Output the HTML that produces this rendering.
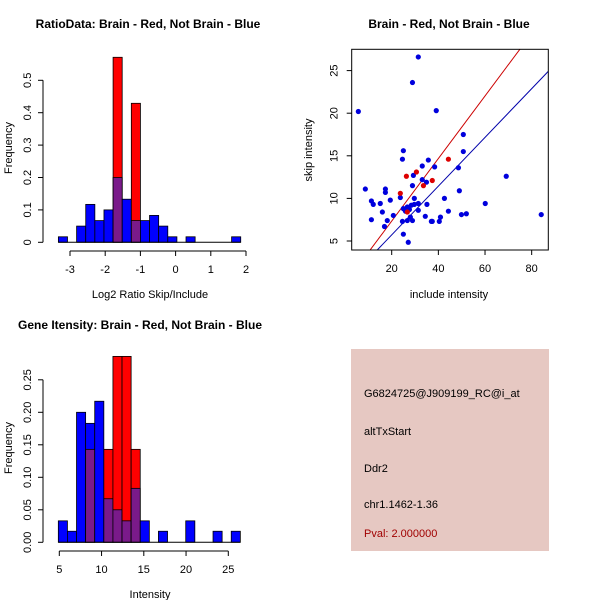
<!DOCTYPE html>
<html><head><meta charset="utf-8"><style>
body{margin:0;background:#fff;font-family:"Liberation Sans",sans-serif}
svg text{font-family:"Liberation Sans",sans-serif}
</style></head><body>
<svg id="s" width="600" height="600" xmlns="http://www.w3.org/2000/svg">
<rect width="600" height="600" fill="#fff"/>
<g id="p1"></g>
<g id="p2"></g>
<g id="p3"></g>
<g id="p4">
<rect x="351" y="349" width="198" height="202" fill="#e6c8c2"/>
<text x="364" y="397" font-size="11">G6824725@J909199_RC@i_at</text>
<text x="364" y="435" font-size="11">altTxStart</text>
<text x="364" y="472" font-size="11">Ddr2</text>
<text x="364" y="508" font-size="11">chr1.1462-1.36</text>
<text x="364" y="537" font-size="11" fill="#a00000">Pval: 2.000000</text>
</g>
</svg>
<script>
// ---- Histogram 1 data ----
const h1Start = -3.33, h1Width = 0.259;
const h1Blue = [0.017,0,0.05,0.117,0.067,0.1,0.2,0.133,0.067,0.067,0.083,0.05,0.017,0,0.017,0,0,0,0,0.017];
const h1Red  = [0,0,0,0,0,0,0.571,0,0.429,0,0,0,0,0,0,0,0,0,0,0];
const h1XTicks = [-3,-2,-1,0,1,2];
const h1YTicks = [0,0.1,0.2,0.3,0.4,0.5];
// ---- Histogram 2 data ----
const h2Start = 4.885, h2Width = 1.077;
const h2Blue = [0.033,0.017,0.2,0.183,0.217,0.067,0.05,0.033,0.083,0.033,0,0.017,0,0,0.033,0,0,0.017,0,0.017];
const h2Red  = [0,0,0,0.143,0,0.143,0.286,0.286,0.143,0,0,0,0,0,0,0,0,0,0,0];
const h2XTicks = [5,10,15,20,25];
const h2YTicks = [0,0.05,0.10,0.15,0.20,0.25];
const h2YLabels = ["0.00","0.05","0.10","0.15","0.20","0.25"];
// ---- Scatter data ----
const blueX = [5.7,31.4,28.9,39.1,50.7,50.7,25,24.6,35.7,48.6,33.1,38.4,69.1,29.3,33.1,34.9,28.9,8.7,17.3,17.3,49,23.7,29.7,42.6,11.3,19.4,12.1,15.1,60.1,31.4,35.1,29.7,28.4,26.7,25,27.6,16,25.9,31.4,44.3,49.9,52,84.1,20.7,34.4,40.9,28,11.3,18.1,24.6,26.7,28.9,37,37.4,40.4,16.9,25,27.1];
const blueY = [20.2,26.6,23.6,20.3,17.5,15.5,15.6,14.6,14.5,13.6,13.8,13.7,12.6,12.7,12.2,11.9,11.5,11.1,11.1,10.7,10.9,10.1,10,10,9.7,9.8,9.3,9.4,9.4,9.4,9.3,9.3,9.2,9.0,8.8,8.7,8.4,8.5,8.6,8.5,8.1,8.2,8.1,8.0,7.9,7.8,7.8,7.5,7.4,7.3,7.4,7.4,7.3,7.3,7.3,6.7,5.8,4.85];
const redX = [23.7,26.3,30.6,33.6,37.4,44.3,26.7];
const redY = [10.6,12.6,13.1,11.5,12.1,14.6,8.4];
const redSlope = 0.367, blueSlope = 0.286;
const scXTicks = [20,40,60,80];
const scYTicks = [5,10,15,20,25];

const NS = "http://www.w3.org/2000/svg";
function mk(parent, tag, attrs){const e=document.createElementNS(NS,tag);for(const k in attrs)e.setAttribute(k,attrs[k]);parent.appendChild(e);return e;}
function txt(parent, x, y, s, opts){const e=mk(parent,'text',Object.assign({x:x,y:y,'font-size':11,'text-anchor':'middle'},opts||{}));e.textContent=s;return e;}

function histogram(g, cfg){
  const xs=v=>cfg.x0px+(v-cfg.x0)*cfg.xk, ys=v=>cfg.y0px-v*cfg.yk;
  for(let i=0;i<cfg.blue.length;i++){
    const l=xs(cfg.start+i*cfg.width), r=xs(cfg.start+(i+1)*cfg.width);
    const b=cfg.blue[i], rd=cfg.red[i];
    const top=Math.max(b,rd);
    if(top<=0) continue;
    const hiCol = rd>b ? 'red' : 'blue';
    let e=mk(g,'rect',{x:l,y:ys(top),width:r-l,height:ys(0)-ys(top),fill:hiCol==='red'?'#ff0000':'#0000ff',stroke:'#000','stroke-width':0.8});
    
    
    const lo=Math.min(b,rd);
    if(lo>0){
      e=mk(g,'rect',{x:l,y:ys(lo),width:r-l,height:ys(0)-ys(lo),fill:'#7a1a8a',stroke:'#000','stroke-width':0.8});
      
      
    }
  }
  mk(g,'line',{x1:xs(cfg.start),x2:xs(cfg.start+cfg.blue.length*cfg.width),y1:ys(0),y2:ys(0),stroke:'#000'});
  const xa=mk(g,'g',{});
  
  mk(xa,'line',{x1:xs(cfg.xt[0]),x2:xs(cfg.xt[cfg.xt.length-1]),y1:cfg.axY,y2:cfg.axY,stroke:'#000'});
  cfg.xt.forEach(t=>{mk(xa,'line',{x1:xs(t),x2:xs(t),y1:cfg.axY,y2:cfg.axY+5,stroke:'#000'});txt(xa,xs(t),cfg.axY+22,String(t));});
  const ya=mk(g,'g',{});
  
  mk(ya,'line',{x1:cfg.axX,x2:cfg.axX,y1:ys(cfg.yt[0]),y2:ys(cfg.yt[cfg.yt.length-1]),stroke:'#000'});
  cfg.yt.forEach((t,i)=>{mk(ya,'line',{x1:cfg.axX,x2:cfg.axX-5,y1:ys(t),y2:ys(t),stroke:'#000'});
    txt(ya,cfg.axX-12,ys(t),cfg.yl[i],{transform:`rotate(-90 ${cfg.axX-12} ${ys(t)})`});});
  let t=txt(g,cfg.titleX,cfg.titleY,cfg.title,{'font-weight':'bold','font-size':12});
  
  t=txt(g,150,cfg.axY+47,cfg.xlab);
  t=txt(g,12,cfg.ylabY,'Frequency',{transform:`rotate(-90 12 ${cfg.ylabY})`});
}

histogram(document.getElementById('p1'),{start:h1Start,width:h1Width,blue:h1Blue,red:h1Red,x0:-3,x0px:70,xk:35.2,y0px:242.3,yk:324,
  xt:h1XTicks,yt:h1YTicks,yl:h1YTicks.map(String),axY:251,axX:43,title:'RatioData: Brain - Red, Not Brain - Blue',titleX:148,titleY:28,xlab:'Log2 Ratio Skip/Include',ylabY:148});
histogram(document.getElementById('p3'),{start:h2Start,width:h2Width,blue:h2Blue,red:h2Red,x0:5,x0px:59.3,xk:8.45,y0px:542.3,yk:650,
  xt:h2XTicks,yt:h2YTicks,yl:h2YLabels,axY:551,axX:43,title:'Gene Itensity: Brain - Red, Not Brain - Blue',titleX:140,titleY:329,xlab:'Intensity',ylabY:448});

(function(){
  const g=document.getElementById('p2');
  const xs=v=>391.7+(v-20)*2.333, ys=v=>241-(v-5)*8.52;
  const L=351.7,R=548.3,T=49.3,B=250;
  const cp=mk(g,'clipPath',{id:'sc'});mk(cp,'rect',{x:L,y:T,width:R-L,height:B-T});
  const lines=mk(g,'g',{'clip-path':'url(#sc)'});
  let e=mk(lines,'line',{x1:xs(0),y1:ys(0),x2:xs(100),y2:ys(100*redSlope),stroke:'#cc0000','stroke-width':1});
  
  e=mk(lines,'line',{x1:xs(0),y1:ys(0),x2:xs(100),y2:ys(100*blueSlope),stroke:'#0000aa','stroke-width':1});
  
  blueX.forEach((x,i)=>{const c=mk(g,'circle',{cx:xs(x),cy:ys(blueY[i]),r:2.6,fill:'#0000dd'});
    });
  redX.forEach((x,i)=>{const c=mk(g,'circle',{cx:xs(x),cy:ys(redY[i]),r:2.6,fill:'#dd0000'});
    });
  e=mk(g,'rect',{x:L,y:T,width:R-L,height:B-T,fill:'none',stroke:'#000'});
  
  scXTicks.forEach(t=>{mk(g,'line',{x1:xs(t),x2:xs(t),y1:B,y2:B+5,stroke:'#000'});txt(g,xs(t),B+22,String(t));});
  scYTicks.forEach(t=>{mk(g,'line',{x1:L,x2:L-5,y1:ys(t),y2:ys(t),stroke:'#000'});txt(g,L-14,ys(t),String(t),{transform:`rotate(-90 ${L-14} ${ys(t)})`});});
  let t=txt(g,449,28,'Brain - Red, Not Brain - Blue',{'font-weight':'bold','font-size':12});
  t=txt(g,449,298,'include intensity');
  t=txt(g,312,150,'skip intensity',{transform:'rotate(-90 312 150)'});
})();
</script>
</body></html>
